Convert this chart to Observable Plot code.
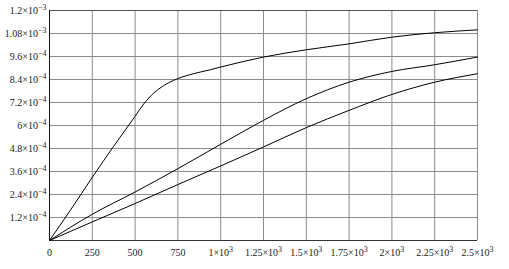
<!DOCTYPE html>
<html>
<head>
<meta charset="utf-8">
<script src="https://cdn.jsdelivr.net/npm/d3@7"></script>
<script src="https://cdn.jsdelivr.net/npm/@observablehq/plot@0.6"></script>
<style>
  html, body { margin: 0; padding: 0; background: #fff; }
  #chart svg { display: block; }
</style>
</head>
<body>
<div id="chart"></div>
<script>
// Data
const xTicks = [0, 250, 500, 750, 1000, 1250, 1500, 1750, 2000, 2250, 2500];
const xTickLabels = ["0", "250", "500", "750", "1×10^3", "1.25×10^3", "1.5×10^3", "1.75×10^3", "2×10^3", "2.25×10^3", "2.5×10^3"];
const yTicks = [0.00012, 0.00024, 0.00036, 0.00048, 0.0006, 0.00072, 0.00084, 0.00096, 0.00108, 0.0012];
const yTickLabels = ["1.2×10^−4", "2.4×10^−4", "3.6×10^−4", "4.8×10^−4", "6×10^−4", "7.2×10^−4", "8.4×10^−4", "9.6×10^−4", "1.08×10^−3", "1.2×10^−3"];

const topX = [0, 125, 250, 375, 500, 550, 610, 665, 745, 840, 940, 1000, 1250, 1500, 1750, 2000, 2250, 2500];
const topY = [0, 0.000162, 0.000330, 0.000492, 0.000648, 0.000712, 0.000770, 0.000807, 0.000843, 0.000870, 0.000891, 0.000905, 0.000957, 0.000995, 0.001026, 0.001061, 0.001084, 0.001099];

const midX = [0, 250, 500, 750, 1000, 1250, 1500, 1750, 2000, 2250, 2500];
const midY = [0, 0.000137, 0.000253, 0.000375, 0.000502, 0.000627, 0.000740, 0.000826, 0.000882, 0.000917, 0.000957];

const lowX = [0, 250, 500, 750, 1000, 1250, 1500, 1750, 2000, 2250, 2500];
const lowY = [0, 0.000097, 0.000193, 0.000292, 0.000389, 0.000488, 0.000589, 0.000679, 0.000762, 0.000826, 0.000870];

const series = [
  ...topX.map((x, i) => ({s: "top", x, y: topY[i]})),
  ...midX.map((x, i) => ({s: "mid", x, y: midY[i]})),
  ...lowX.map((x, i) => ({s: "low", x, y: lowY[i]}))
];

const xLabel = new Map(xTicks.map((t, i) => [t, xTickLabels[i]]));
const yLabel = new Map(yTicks.map((t, i) => [t, yTickLabels[i]]));

const plot = Plot.plot({
  width: 509,
  height: 269,
  marginLeft: 49,
  marginRight: 32,
  marginTop: 10,
  marginBottom: 29,
  style: {fontFamily: "'Liberation Serif', serif", fontSize: "10px", color: "#222", background: "#fff"},
  x: {domain: [0, 2500], label: null},
  y: {domain: [0, 0.0012], label: null},
  marks: [
    Plot.gridX(xTicks, {stroke: "#8c8c8c", strokeOpacity: 1}),
    Plot.gridY(yTicks, {stroke: "#8c8c8c", strokeOpacity: 1}),
    Plot.ruleY([0.0012], {stroke: "#555"}),
    Plot.ruleX([0], {stroke: "#111"}),
    Plot.ruleY([0], {stroke: "#333"}),
    Plot.line(series, {x: "x", y: "y", z: "s", stroke: "#000", strokeWidth: 1, curve: "monotone-x"}),
    Plot.axisX(xTicks, {tickSize: 0, tickPadding: 8, tickFormat: d => xLabel.get(d), fill: "#222", label: null}),
    Plot.axisY(yTicks, {tickSize: 0, tickPadding: 3, tickFormat: d => yLabel.get(d), fill: "#222", label: null})
  ]
});

// Render exponent parts as raised superscripts
d3.select(plot).selectAll("g[aria-label$='tick label'] text").each(function() {
  const t = this.textContent;
  if (t.includes("^")) {
    const [base, exp] = t.split("^");
    const sel = d3.select(this);
    sel.text(null);
    sel.append("tspan").text(base);
    sel.append("tspan").attr("dy", "-0.45em").attr("font-size", "8px").text(exp);
  }
});

document.getElementById("chart").appendChild(plot);
</script>
</body>
</html>
